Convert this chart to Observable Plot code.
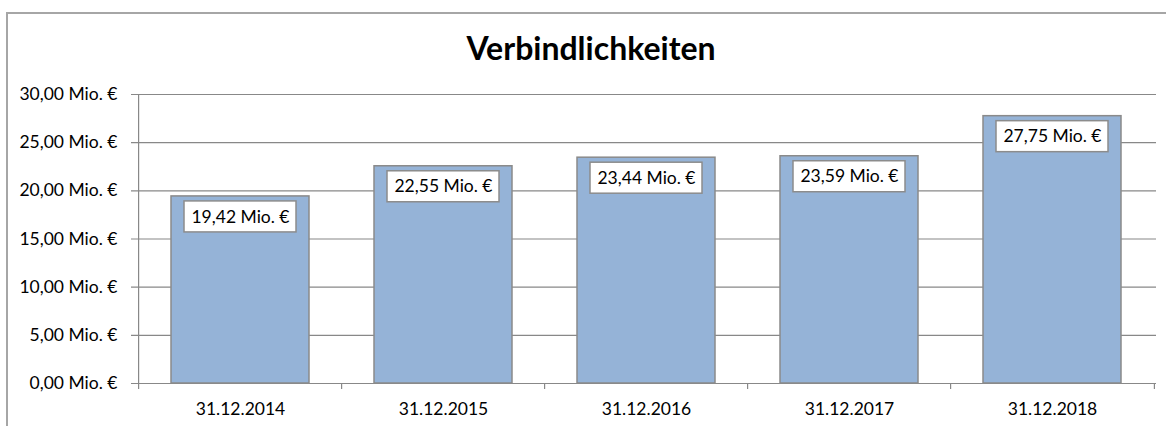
<!DOCTYPE html>
<html>
<head>
<meta charset="utf-8">
<script src="https://cdn.jsdelivr.net/npm/d3@7"></script>
<script src="https://cdn.jsdelivr.net/npm/@observablehq/plot@0.6"></script>
<style>
  html, body { margin: 0; padding: 0; background: #fff; }
  #wrap { position: relative; width: 1166px; height: 426px; overflow: hidden; font-family: Lato, "Open Sans", sans-serif; }
  #border { position: absolute; left: 6px; top: 12px; width: 1200px; height: 500px; border-left: 2px solid #a6a6a6; border-top: 2px solid #a6a6a6; box-sizing: border-box; }
  #title { position: absolute; left: 6px; right: -10px; top: 30px; text-align: center; font-weight: bold; font-size: 32px; line-height: 36px; color: #000; }
  #chart { position: absolute; left: 0; top: 80px; }
</style>
</head>
<body>
<div id="wrap">
  <div id="border"></div>
  <div id="title">Verbindlichkeiten</div>
  <div id="chart"></div>
</div>
<script>
const dates = ["31.12.2014", "31.12.2015", "31.12.2016", "31.12.2017", "31.12.2018"];
const values = [19.42, 22.55, 23.44, 23.59, 27.75];
const yTicks = [0, 5, 10, 15, 20, 25, 30];

const data = dates.map((d, i) => ({date: d, value: values[i]}));
const fmt = v => v.toFixed(2).replace(".", ",") + " Mio. €";

const W = 1166, H = 346, ML = 137, MR = 10, MT = 14, MB = 43;
const step = (W - ML - MR) / dates.length;
const grey = "#888888";
const fs = 17.5;

const chart = Plot.plot({
  width: W,
  height: H,
  marginLeft: ML,
  marginRight: MR,
  marginTop: MT,
  marginBottom: MB,
  style: {fontFamily: "Lato, 'Open Sans', sans-serif", fontSize: fs + "px", color: "#000", background: "transparent"},
  x: {domain: dates, paddingInner: 0.32, paddingOuter: 0.16, label: null},
  y: {domain: [0, 30], label: null},
  marks: [
    Plot.ruleY(yTicks, {stroke: grey, strokeWidth: 1.2, insetLeft: -6}),
    Plot.ruleX([dates[0]], {y1: 0, y2: 30, dx: -step / 2, stroke: grey, strokeWidth: 1.2}),
    Plot.axisY({ticks: yTicks, tickSize: 0, tickPadding: 20, tickFormat: fmt, fill: "#000", fontSize: fs}),
    Plot.axisX({tickSize: 6, text: null, dx: -step / 2, stroke: grey, strokeWidth: 1.2}),
    Plot.axisX({ticks: [dates[dates.length - 1]], tickSize: 6, text: null, dx: step / 2, stroke: grey, strokeWidth: 1.2}),
    Plot.axisX({tickSize: 0, tickPadding: 19, fill: "#000", fontSize: fs}),
    Plot.barY(data, {x: "date", y: "value", fill: "#95B3D7", stroke: "#8a8a8a", strokeWidth: 1.5}),
    Plot.barY(data, {x: "date", y1: "value", y2: "value", insetTop: 5, insetBottom: -36, insetLeft: 13, insetRight: 13, fill: "#fff", stroke: "#8c8c8c", strokeWidth: 1.5}),
    Plot.text(data, {x: "date", y: "value", text: d => fmt(d.value), dy: 20.5, lineAnchor: "middle", fill: "#000", fontSize: fs})
  ]
});
document.getElementById("chart").appendChild(chart);
</script>
</body>
</html>
